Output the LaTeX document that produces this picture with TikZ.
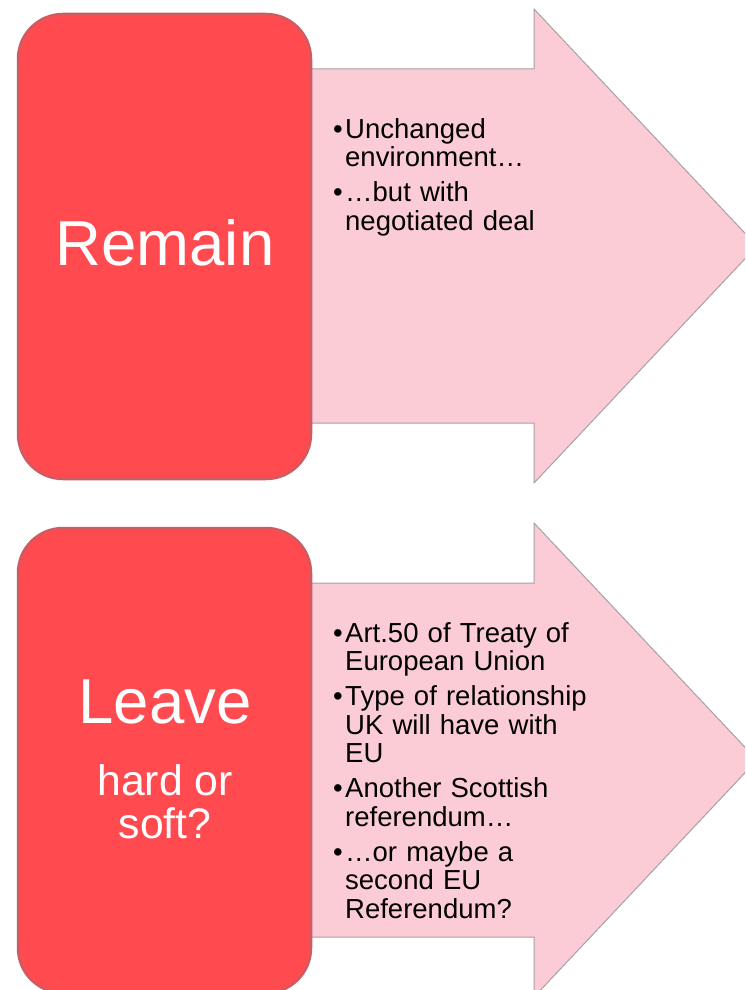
\documentclass[tikz,border=0pt]{standalone}
\usepackage{fontspec}
\setmainfont{Liberation Sans}
\usepackage{tikz}
\definecolor{boxred}{RGB}{255,75,80}
\definecolor{boxrim}{RGB}{205,92,98}
\definecolor{arrowpink}{RGB}{252,204,214}
\definecolor{arrowline}{RGB}{168,160,163}
\tikzstyle{choice} = [draw=boxrim, line width=2.5pt, fill=boxred, rounded corners=45pt, minimum width=293pt, minimum height=465pt, inner sep=0pt]
\tikzstyle{bigword} = [text=white, font={\fontsize{63.5}{70}\selectfont}, inner sep=0pt, anchor=base]
\tikzstyle{subword} = [text=white, font={\fontsize{42.7}{43}\selectfont}, align=center, inner sep=0pt, anchor=north]
\tikzstyle{arrowbody} = [draw=arrowline, line width=1pt, fill=arrowpink, line join=miter]
\tikzstyle{points} = [text=black, font={\fontsize{27.5}{28.5}\selectfont\setlength{\parskip}{6.5pt}}, text width=280pt, align=left, inner sep=0pt, anchor=north west]
\newcommand{\bpoint}[1]{\par\hangindent=12pt\hangafter=1\noindent\makebox[12pt][l]{\textbullet}#1\par}

\begin{document}
\begin{tikzpicture}[x=1pt,y=-1pt]
  \useasboundingbox (0,0) rectangle (745,990);
  \clip (0,0) rectangle (745,990);
  \draw[arrowbody] (300,69) -- (534,69) -- (534,9) -- (757,246) -- (534,483) -- (534,423) -- (300,423) -- cycle;
  \draw[arrowbody] (300,583) -- (534,583) -- (534,523) -- (757,760) -- (534,997) -- (534,937) -- (300,937) -- cycle;
  \node[choice](remain) at (164.5,246.5){};
  \node[choice](leave) at (164.5,760.5){};
  \node[bigword](rw) at (165,265){Remain};
  \node[bigword](lw) at (165,723){Leave};
  \node[subword](hs) at (165,764){hard or\\soft?};
  \node[points](rp) at (333,103){%
    \bpoint{Unchanged\newline environment…}
    \bpoint{…but with\newline negotiated deal}};
  \node[points](lp) at (333,607){%
    \bpoint{Art.50 of Treaty of\newline European Union}
    \bpoint{Type of relationship\newline UK will have with\newline EU}
    \bpoint{Another Scottish\newline referendum…}
    \bpoint{…or maybe a\newline second EU\newline Referendum?}};
\end{tikzpicture}
\end{document}
